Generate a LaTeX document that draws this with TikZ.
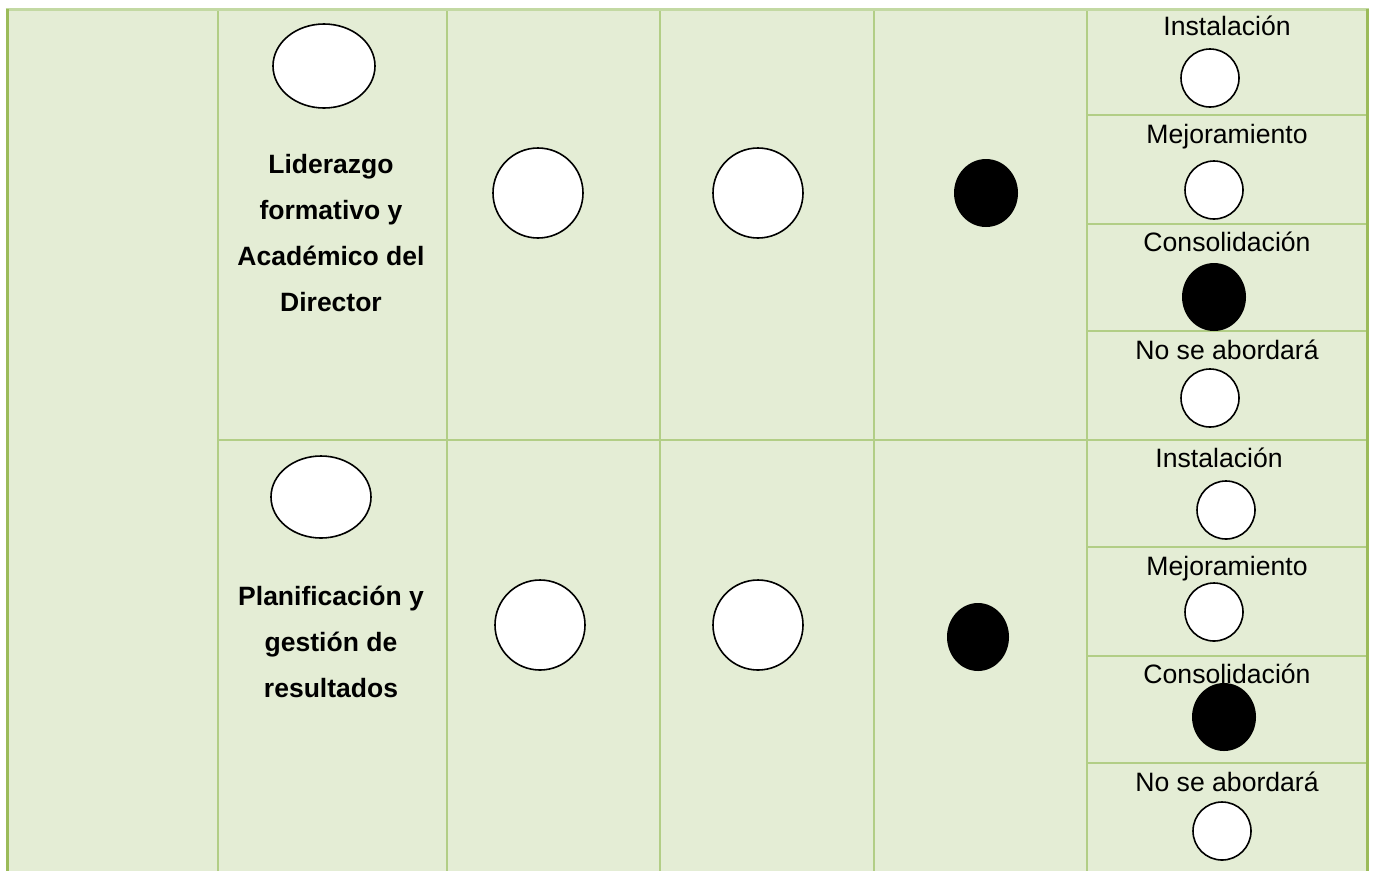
\documentclass[tikz,border=0pt]{standalone}
\usepackage{fontspec}
\setmainfont{Liberation Sans}
\usetikzlibrary{shapes.geometric}
\definecolor{cellfill}{HTML}{E4EDD5}
\definecolor{outerline}{HTML}{9BBB59}
\definecolor{innerline}{HTML}{B2CE86}
\definecolor{topline}{HTML}{C3D9A3}
\tikzset{
  grid/.style={innerline, line width=2.5pt},
  outer/.style={outerline, line width=3pt},
  wdot/.style={ellipse, draw=black, fill=white, line width=1.6pt, inner sep=0pt},
  bdot/.style={ellipse, fill=black, inner sep=0pt},
  lab/.style={font=\fontsize{26.6}{30}\selectfont, anchor=base, inner sep=0pt},
  head/.style={font=\bfseries\fontsize{26.5}{46}\selectfont, align=center, anchor=base, inner sep=0pt},
}
\begin{document}
\begin{tikzpicture}[x=1pt,y=-1pt]
\useasboundingbox (0,0) rectangle (1375,871);
\fill[cellfill] (7,9) rectangle (1367,871);
% grid
\foreach \x in {218,447,660,874,1087} \draw[grid] (\x,9) -- (\x,871);
\draw[grid] (218,440) -- (1367,440);
\foreach \y in {115,224,331,547,656,763} \draw[grid] (1087,\y) -- (1367,\y);
\draw[topline, line width=3pt] (5.5,9) -- (1368.5,9);
\draw[outer] (7,9) -- (7,871);
\draw[outer] (1367,9) -- (1367,871);
% row 1
\node[wdot, minimum width=102pt, minimum height=84pt] (e1) at (324,66) {};
\node[head] (h1) at (331,311) {Liderazgo\\formativo y\\Académico del\\Director};
\node[wdot, minimum width=90pt, minimum height=90pt] (a1) at (538,193) {};
\node[wdot, minimum width=90pt, minimum height=90pt] (b1) at (758,193) {};
\node[bdot, minimum width=64pt, minimum height=68pt] (c1) at (986,193) {};
\node[lab] (l11) at (1227,35) {Instalación};
\node[wdot, minimum width=58pt, minimum height=58pt] (d11) at (1210,78) {};
\node[lab] (l12) at (1227,143) {Mejoramiento};
\node[wdot, minimum width=58pt, minimum height=58pt] (d12) at (1214,190) {};
\node[lab] (l13) at (1227,251) {Consolidación};
\node[bdot, minimum width=64pt, minimum height=68pt] (d13) at (1214,297) {};
\node[lab] (l14) at (1227,359) {No se abordará};
\node[wdot, minimum width=58pt, minimum height=58pt] (d14) at (1210,398) {};
% row 2
\node[wdot, minimum width=100pt, minimum height=82pt] (e2) at (321,497) {};
\node[head] (h2) at (331,697) {Planificación y\\gestión de\\resultados};
\node[wdot, minimum width=90pt, minimum height=90pt] (a2) at (540,625) {};
\node[wdot, minimum width=90pt, minimum height=90pt] (b2) at (758,625) {};
\node[bdot, minimum width=62pt, minimum height=68pt] (c2) at (978,637) {};
\node[lab] (l21) at (1219,467) {Instalación};
\node[wdot, minimum width=58pt, minimum height=58pt] (d21) at (1226,510) {};
\node[lab] (l22) at (1227,575) {Mejoramiento};
\node[wdot, minimum width=58pt, minimum height=58pt] (d22) at (1214,612) {};
\node[bdot, minimum width=64pt, minimum height=68pt] (d23) at (1224,717) {};
\node[lab] (l23) at (1227,683) {Consolidación};
\node[lab] (l24) at (1227,791) {No se abordará};
\node[wdot, minimum width=58pt, minimum height=58pt] (d24) at (1222,831) {};
\end{tikzpicture}
\end{document}
